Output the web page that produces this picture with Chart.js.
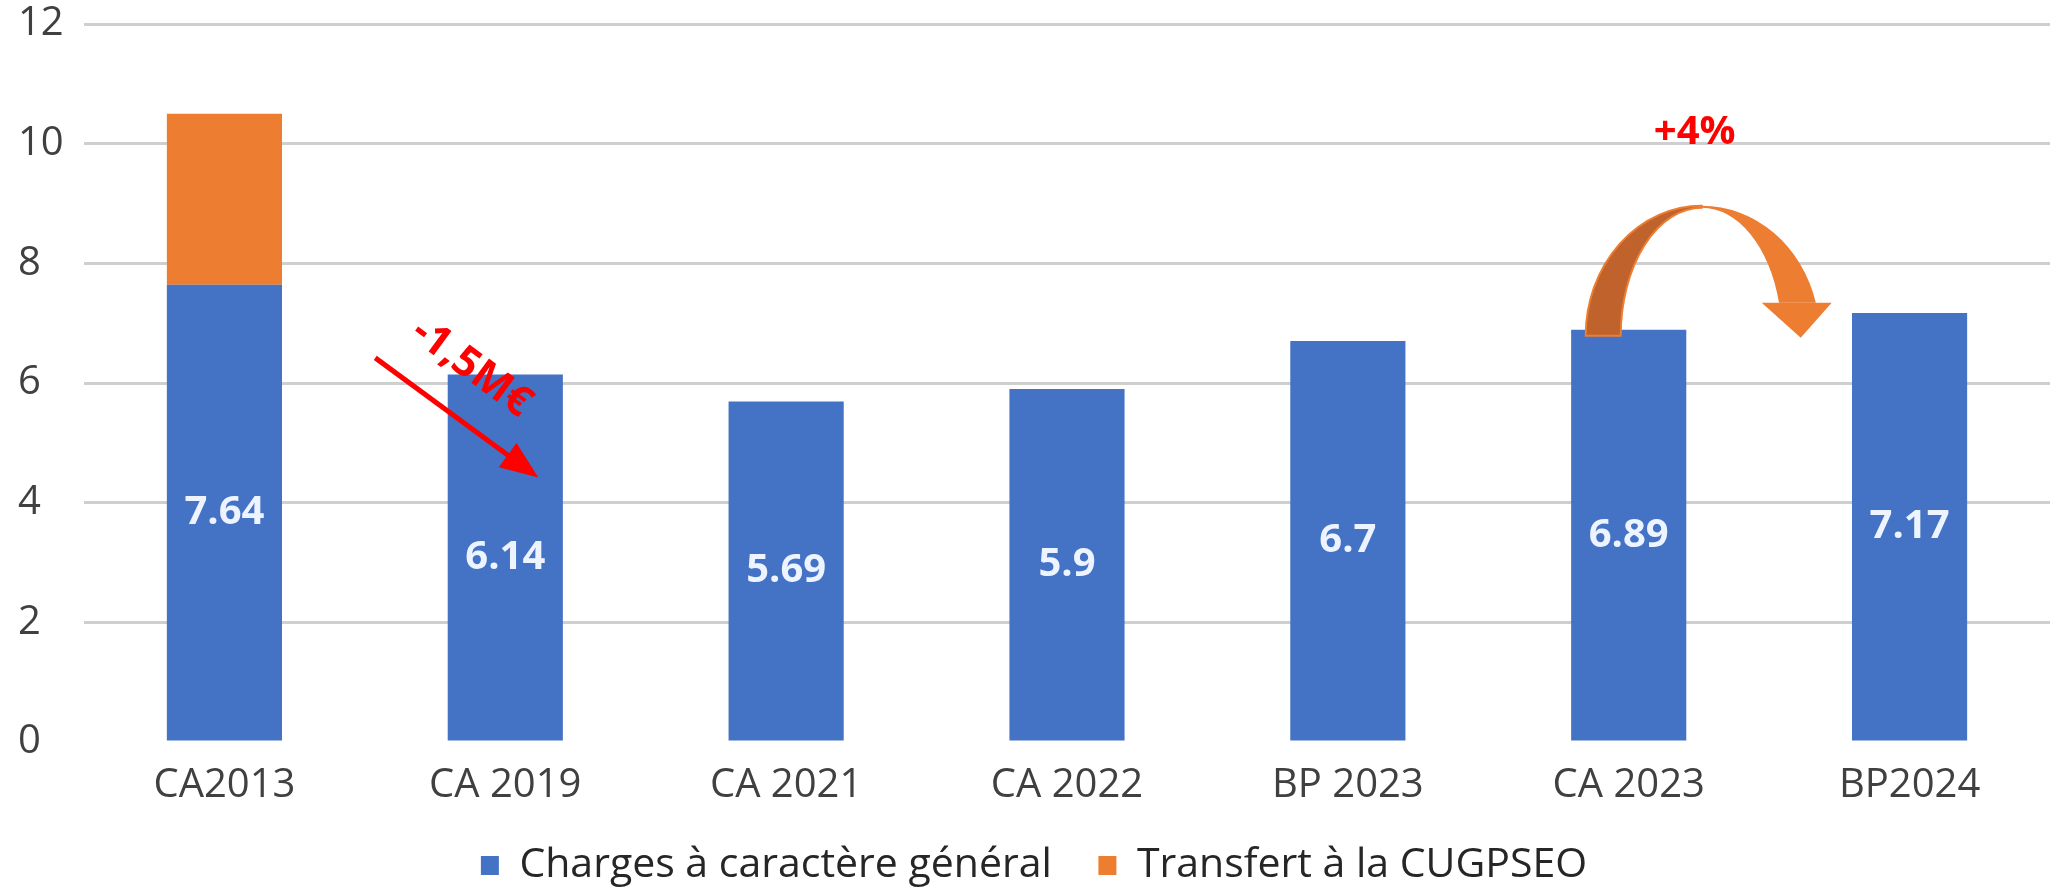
<!DOCTYPE html>
<html>
<head>
<meta charset="utf-8">
<script src="https://cdn.jsdelivr.net/npm/chart.js@4.4.0/dist/chart.umd.min.js"></script>
<style>
  html, body { margin: 0; padding: 0; background: #ffffff; }
  #wrap { width: 2050px; height: 896px; position: relative; }
</style>
</head>
<body>
<div id="wrap"><canvas id="chart"></canvas></div>
<script>
// donnees du graphique
const categories = ["CA2013", "CA 2019", "CA 2021", "CA 2022", "BP 2023", "CA 2023", "BP2024"];
const chargesGenerales = [7.64, 6.14, 5.69, 5.9, 6.7, 6.89, 7.17];
const transfertCugpseo = [2.86, null, null, null, null, null, null];
const seriesNames = ["Charges à caractère général", "Transfert à la CUGPSEO"];
const yTicks = [0, 2, 4, 6, 8, 10, 12];

const FONT = "'Open Sans', 'DejaVu Sans', sans-serif";

// etiquettes blanches au centre des barres bleues
const valueLabels = {
  id: "valueLabels",
  afterDatasetsDraw(chart) {
    const ctx = chart.ctx;
    const meta = chart.getDatasetMeta(0);
    ctx.save();
    ctx.font = "bold 40px " + FONT;
    ctx.fillStyle = "#eef4ff";
    ctx.textAlign = "center";
    ctx.textBaseline = "middle";
    meta.data.forEach((bar, i) => {
      const y = (bar.y + bar.base) / 2;
      ctx.fillText(String(chargesGenerales[i]), bar.x, y);
    });
    ctx.restore();
  }
};

// fleches et textes en rouge / orange
const annotations = {
  id: "annotations",
  afterDraw(chart) {
    const ctx = chart.ctx;
    const xs = chart.scales.x;
    const ys = chart.scales.y;
    ctx.save();

    // fleche rouge -1,5M€
    const x1 = xs.getPixelForValue(1);
    const sx = x1 - 130, sy = ys.getPixelForValue(6.42);
    const tx = x1 + 33, ty = ys.getPixelForValue(4.42);
    const ang = Math.atan2(ty - sy, tx - sx);
    ctx.strokeStyle = "#ff0000";
    ctx.fillStyle = "#ff0000";
    ctx.lineWidth = 5;
    ctx.beginPath();
    ctx.moveTo(sx, sy);
    ctx.lineTo(tx - 30 * Math.cos(ang), ty - 30 * Math.sin(ang));
    ctx.stroke();
    ctx.beginPath();
    ctx.moveTo(tx, ty);
    ctx.lineTo(tx - 38 * Math.cos(ang) + 15 * Math.sin(ang), ty - 38 * Math.sin(ang) - 15 * Math.cos(ang));
    ctx.lineTo(tx - 38 * Math.cos(ang) - 15 * Math.sin(ang), ty - 38 * Math.sin(ang) + 15 * Math.cos(ang));
    ctx.closePath();
    ctx.fill();

    ctx.save();
    ctx.translate(x1 - 34, ys.getPixelForValue(6.25));
    ctx.rotate(ang);
    ctx.font = "bold 42px " + FONT;
    ctx.textAlign = "center";
    ctx.textBaseline = "middle";
    ctx.fillText("-1,5M€", 0, 0);
    ctx.restore();

    // +4%
    const x5 = xs.getPixelForValue(5);
    ctx.font = "bold 40px " + FONT;
    ctx.textAlign = "center";
    ctx.textBaseline = "middle";
    ctx.fillText("+4%", x5 + 66, ys.getPixelForValue(10.18));

    // fleche orange courbee
    const cx = x5 + 73, by = ys.getPixelForValue(6.79);
    const endOut = -Math.asin(33 / 130);
    const endIn = -Math.asin(33 / 128);
    ctx.fillStyle = "#ed7d31";
    ctx.beginPath();
    ctx.ellipse(cx, by, 118, 130, 0, -Math.PI / 2, endOut);
    ctx.ellipse(cx, by, 80, 128, 0, endIn, -Math.PI / 2, true);
    ctx.closePath();
    ctx.fill();
    ctx.beginPath();
    ctx.moveTo(cx + 60, by - 33);
    ctx.lineTo(cx + 130, by - 33);
    ctx.lineTo(cx + 99, by + 2);
    ctx.closePath();
    ctx.fill();

    ctx.fillStyle = "#c0622b";
    ctx.strokeStyle = "#ed7d31";
    ctx.lineWidth = 2;
    ctx.beginPath();
    ctx.ellipse(cx, by, 116, 130, 0, Math.PI, Math.PI * 1.5);
    ctx.ellipse(cx, by, 81, 128, 0, Math.PI * 1.5, Math.PI, true);
    ctx.closePath();
    ctx.fill();
    ctx.stroke();

    ctx.restore();
  }
};

const ctx = document.getElementById("chart").getContext("2d");
new Chart(ctx, {
  type: "bar",
  data: {
    labels: categories,
    datasets: [
      {
        label: seriesNames[0],
        data: chargesGenerales,
        backgroundColor: "#4472c4",
        barPercentage: 0.41,
        categoryPercentage: 1
      },
      {
        label: seriesNames[1],
        data: transfertCugpseo,
        backgroundColor: "#ed7d31",
        barPercentage: 0.41,
        categoryPercentage: 1
      }
    ]
  },
  options: {
    responsive: true,
    maintainAspectRatio: false,
    animation: false,
    layout: { padding: { left: 18, right: 0, top: 1, bottom: 0 } },
    scales: {
      x: {
        stacked: true,
        grid: { display: false },
        border: { display: false },
        afterFit: scale => { scale.height = 99; },
        ticks: {
          color: "#404040",
          font: { family: FONT, size: 40 },
          padding: 12
        }
      },
      y: {
        stacked: true,
        min: 0,
        max: 12,
        afterBuildTicks: scale => { scale.ticks = yTicks.map(v => ({ value: v })); },
        afterFit: scale => { scale.width = 66; },
        border: { display: false },
        grid: {
          color: c => (c.tick && c.tick.value === 0 ? "rgba(0,0,0,0)" : "#cfcfcf"),
          lineWidth: 3,
          drawTicks: false
        },
        ticks: {
          color: "#404040",
          font: { family: FONT, size: 40 },
          crossAlign: "far",
          padding: 0
        }
      }
    },
    plugins: {
      tooltip: { enabled: false },
      legend: {
        position: "bottom",
        labels: {
          color: "#262626",
          font: { family: FONT, size: 41 },
          boxWidth: 18,
          boxHeight: 19,
          padding: 4,
          // espace entre les deux entrees de la legende
          generateLabels: chart => {
            const items = Chart.defaults.plugins.legend.labels.generateLabels(chart);
            items[0].text = items[0].text + "    ";
            return items;
          }
        }
      }
    }
  },
  plugins: [valueLabels, annotations]
});
</script>
</body>
</html>
